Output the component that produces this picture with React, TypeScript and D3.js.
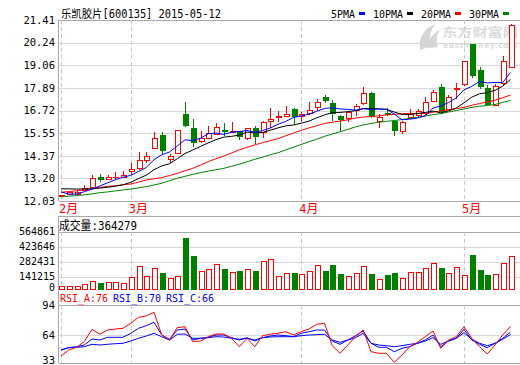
import React, { useEffect, useRef } from 'react';
import * as d3 from 'd3';

const W = 520;
const H = 365;

// daily candles, 2015-02 .. 2015-05-12
const opens = [12.29, 12.38, 12.4, 12.6, 12.77, 13.26, 13.19, 13.25, 13.27, 13.58, 13.72, 14.13, 14.77, 15.45, 14.22, 14.53, 16.54, 15.83, 15.15, 15.28, 15.5, 15.72, 15.62, 15.65, 15.28, 15.8, 15.62, 16.17, 16.37, 16.45, 16.8, 16.43, 16.6, 16.88, 17.4, 17.09, 16.45, 16.31, 16.76, 17.1, 17.64, 16.19, 16.6, 16.18, 15.67, 16.37, 16.5, 16.58, 17.2, 17.95, 16.81, 17.85, 18.08, 20.15, 18.83, 17.87, 17.0, 18.14, 19.0];
const highs = [12.36, 12.56, 12.55, 12.86, 13.38, 13.45, 13.38, 13.52, 13.58, 13.98, 14.58, 14.58, 15.62, 15.6, 14.45, 15.72, 17.17, 16.3, 15.67, 15.9, 16.08, 16.06, 16.1, 15.68, 15.82, 15.92, 16.16, 16.83, 16.72, 16.95, 16.83, 16.62, 17.17, 17.32, 17.52, 17.26, 16.5, 16.7, 17.04, 17.95, 17.7, 16.52, 16.85, 16.2, 16.15, 16.8, 16.8, 17.43, 17.8, 18.07, 17.52, 18.12, 19.3, 20.16, 18.95, 18.06, 18.1, 19.55, 21.2];
const lows = [12.26, 12.35, 12.38, 12.57, 12.75, 13.03, 13.12, 13.12, 13.22, 13.38, 13.64, 14.0, 14.72, 14.45, 14.0, 14.48, 15.88, 14.84, 15.05, 15.25, 15.45, 15.4, 15.58, 15.18, 15.18, 15.0, 15.3, 15.8, 16.14, 16.42, 15.97, 16.12, 16.5, 16.7, 17.13, 16.2, 15.62, 16.1, 16.43, 17.0, 16.35, 15.8, 16.45, 15.38, 15.5, 16.3, 16.4, 16.5, 17.15, 16.55, 16.75, 17.3, 18.0, 18.4, 17.86, 16.98, 16.97, 18.05, 18.9];
const closes = [12.33, 12.5, 12.5, 12.72, 13.2, 13.15, 13.29, 13.29, 13.38, 13.68, 14.14, 14.38, 15.28, 14.67, 14.36, 15.71, 15.97, 15.1, 15.27, 15.54, 15.85, 15.66, 15.66, 15.42, 15.8, 15.42, 16.12, 16.3, 16.41, 16.52, 16.43, 16.55, 16.73, 17.15, 17.27, 16.6, 16.26, 16.63, 16.93, 17.62, 16.42, 16.4, 16.55, 15.71, 16.12, 16.55, 16.7, 17.18, 17.66, 16.7, 17.42, 17.9, 19.28, 18.55, 17.97, 17.05, 18.0, 19.27, 21.17];
const volumes = [29700, 33000, 33000, 55000, 88000, 66000, 77000, 77000, 66000, 132000, 253000, 143000, 231000, 180000, 121000, 143000, 564861, 367000, 202000, 220000, 275000, 224000, 191000, 202000, 220000, 202000, 312000, 330000, 143000, 180000, 180000, 169000, 202000, 268000, 202000, 268000, 169000, 146000, 180000, 257000, 169000, 110000, 157000, 180000, 121000, 191000, 191000, 231000, 290000, 235000, 180000, 242000, 154000, 378000, 213000, 157000, 169000, 290000, 364279];

const ma5 = [12.5, 12.39, 12.39, 12.51, 12.65, 12.81, 12.97, 13.13, 13.26, 13.36, 13.56, 13.77, 14.17, 14.43, 14.57, 14.88, 15.2, 15.16, 15.28, 15.52, 15.55, 15.48, 15.6, 15.63, 15.68, 15.59, 15.68, 15.81, 16.01, 16.15, 16.36, 16.44, 16.53, 16.68, 16.83, 16.86, 16.8, 16.78, 16.74, 16.81, 16.77, 16.8, 16.78, 16.54, 16.24, 16.27, 16.33, 16.45, 16.84, 16.96, 17.13, 17.37, 17.79, 17.97, 18.22, 18.15, 18.17, 18.17, 18.69];
const ma10 = [12.66, 12.66, 12.65, 12.65, 12.66, 12.7, 12.74, 12.8, 12.87, 13.0, 13.19, 13.37, 13.65, 13.85, 13.96, 14.22, 14.49, 14.67, 14.86, 15.04, 15.21, 15.34, 15.38, 15.45, 15.6, 15.57, 15.58, 15.7, 15.82, 15.92, 15.97, 16.06, 16.17, 16.34, 16.49, 16.61, 16.62, 16.66, 16.71, 16.82, 16.82, 16.8, 16.78, 16.64, 16.52, 16.52, 16.56, 16.62, 16.69, 16.6, 16.7, 16.85, 17.12, 17.41, 17.59, 17.64, 17.77, 17.98, 18.33];
const ma20 = [12.48, 12.52, 12.56, 12.61, 12.66, 12.74, 12.78, 12.82, 12.87, 12.91, 13.01, 13.12, 13.18, 13.24, 13.35, 13.46, 13.6, 13.72, 13.89, 14.07, 14.22, 14.36, 14.52, 14.68, 14.81, 14.94, 15.05, 15.16, 15.26, 15.41, 15.55, 15.69, 15.82, 15.93, 16.05, 16.11, 16.17, 16.24, 16.33, 16.38, 16.41, 16.44, 16.49, 16.52, 16.55, 16.57, 16.57, 16.57, 16.63, 16.7, 16.75, 16.82, 16.88, 16.99, 17.08, 17.16, 17.25, 17.38, 17.52];
const ma30 = [12.25, 12.28, 12.31, 12.35, 12.4, 12.46, 12.5, 12.55, 12.6, 12.65, 12.71, 12.77, 12.86, 12.95, 13.08, 13.21, 13.31, 13.41, 13.5, 13.58, 13.65, 13.72, 13.83, 13.94, 14.06, 14.19, 14.3, 14.43, 14.53, 14.68, 14.82, 14.96, 15.1, 15.23, 15.38, 15.5, 15.62, 15.74, 15.87, 15.97, 16.05, 16.11, 16.16, 16.2, 16.25, 16.31, 16.37, 16.43, 16.5, 16.56, 16.64, 16.72, 16.8, 16.88, 16.94, 16.98, 17.03, 17.14, 17.24];

const rsiA = [43, 49, 51.7, 57.3, 69.7, 64.7, 69, 70, 70.7, 75.7, 81.7, 83, 86.7, 64, 59, 71.3, 72.3, 57.3, 58, 62.3, 65, 65, 60.7, 52.3, 60.7, 52.3, 63.3, 64.7, 65.7, 67.3, 64, 67.3, 70, 74.7, 75.7, 53.3, 45.7, 54, 62.3, 69, 47.3, 45.7, 45.7, 36.7, 44, 52.3, 56.7, 62.3, 68, 50.7, 59, 62.3, 72.3, 60.7, 52.3, 45, 54, 64, 72.5];
const rsiB = [49, 51.3, 52.3, 54, 60, 59, 61.7, 61.7, 61.7, 65.7, 70.7, 73.3, 76.7, 64, 59.7, 69, 70, 59, 60.7, 61.7, 64, 64, 61.3, 59, 61.3, 58, 61.3, 63, 64, 63.3, 62.3, 65.7, 67.3, 69, 69, 58, 54.7, 59, 63.3, 68, 55.7, 51.7, 51.7, 47.3, 50.7, 52.3, 55.7, 59, 64, 52.3, 58, 60.7, 69.7, 59, 54.7, 51.3, 55.7, 60.7, 67];
const rsiC = [49, 51.3, 51.7, 52.3, 54.7, 54, 54.7, 55.3, 55.7, 58, 60.7, 63, 65.7, 62.3, 59, 64.7, 65, 60.7, 60.7, 61.3, 62.3, 62, 60.7, 59.7, 60.7, 59, 61.3, 62, 62.3, 62.3, 62.3, 63.3, 64, 64.3, 64.7, 59, 56.7, 59, 61.3, 65.7, 55.7, 54, 53.3, 52.3, 53.3, 54.7, 55.7, 58, 61.3, 54.7, 58, 60.7, 66.3, 59.7, 55.7, 53.3, 55.7, 59.7, 64.5];

const priceTicks = [12.03, 13.2, 14.37, 15.55, 16.72, 17.89, 19.06, 20.24, 21.41];
const volTicks = [0, 141215, 282431, 423646, 564861];
const rsiTicks = [33, 64, 94];
const monthLabels = ['2月', '3月', '4月', '5月'];
const monthStart = [0, 9, 31, 52];
const maNames = ['5PMA', '10PMA', '20PMA', '30PMA'];
const maColors = ['#0000ff', '#000000', '#ff0000', '#008000'];
const rsiNames = ['RSI_A:76', 'RSI_B:70', 'RSI_C:66'];
const rsiColors = ['#ff0000', '#0000ff', '#0000ff'];

const RED = '#ff0000';
const GREEN = '#008000';
const MONO = "'DejaVu Sans Mono', 'Noto Sans CJK SC', monospace";

const crisp = (v: number) => Math.round(v) + 0.5;

const draw = (el: SVGSVGElement) => {
  const svg = d3.select(el);
  svg.selectAll('*').remove();

  const n = closes.length;
  const x = d3.scaleLinear().domain([0, n - 1]).range([61, 510.5]);
  const yP = d3.scaleLinear().domain([12.03, 21.41]).range([201, 20]);
  const yVol = d3.scaleLinear().domain([0, 564861]).range([289, 237.7]);
  const yVolGrid = d3.scaleLinear().domain([0, 564861]).range([291.7, 231.7]);
  const yRsi = d3.scaleLinear().domain([33, 94]).range([366, 305]);

  const left = 58.5;
  const right = 520;

  // clip regions
  const defs = svg.append('defs');
  defs.append('clipPath').attr('id', 'clipMain')
    .append('rect').attr('x', left).attr('y', 20).attr('width', right - left).attr('height', 181);
  defs.append('clipPath').attr('id', 'clipRsi')
    .append('rect').attr('x', left).attr('y', 305).attr('width', right - left).attr('height', 58);

  // watermark
  const wm = svg.append('g').attr('fill', '#dcdcdc');
  wm.append('path')
    .attr('d', 'M420,50 C418,38 424,28 436,24 C430,30 428,38 432,46 Z M428,48 C428,40 432,33 440,30 C436,36 436,42 438,47 Z')
    .attr('fill', '#d6d6d6');
  wm.append('text').attr('x', 442).attr('y', 36.5)
    .attr('font-family', "'Noto Sans CJK SC', sans-serif").attr('font-weight', 'bold')
    .attr('font-size', 12).attr('textLength', 76).attr('lengthAdjust', 'spacingAndGlyphs').text('东方财富网');
  wm.append('text').attr('x', 443).attr('y', 47.5)
    .attr('font-family', "'DejaVu Sans', sans-serif").attr('font-weight', 'bold')
    .attr('font-size', 7.5).attr('textLength', 74).text('eastmoney.com');

  // grid lines, main panel
  const grid = svg.append('g').attr('shape-rendering', 'crispEdges');
  priceTicks.forEach((t, i) => {
    const edge = i === 0 || i === priceTicks.length - 1;
    grid.append('line').attr('x1', left).attr('x2', right)
      .attr('y1', crisp(yP(t))).attr('y2', crisp(yP(t)))
      .attr('stroke', edge ? '#a8a8a8' : '#d8d8d8');
  });
  // volume panel
  grid.append('line').attr('x1', left).attr('x2', right).attr('y1', 216.5).attr('y2', 216.5).attr('stroke', '#a8a8a8');
  volTicks.slice(1).forEach((t, i) => {
    const top = i === volTicks.length - 2;
    grid.append('line').attr('x1', left).attr('x2', right)
      .attr('y1', crisp(yVolGrid(t))).attr('y2', crisp(yVolGrid(t)))
      .attr('stroke', top ? '#a8a8a8' : '#d8d8d8');
  });
  // rsi panel
  rsiTicks.forEach((t) => {
    const y = t === 33 ? 363.5 : crisp(yRsi(t));
    grid.append('line').attr('x1', left).attr('x2', right).attr('y1', y).attr('y2', y)
      .attr('stroke', t === 64 ? '#d8d8d8' : '#a8a8a8');
  });

  // month dashed lines
  const spans: [number, number][] = [[20, 201], [231.7, 289], [305, 363]];
  monthStart.forEach((idx) => {
    spans.forEach(([a, b]) => {
      grid.append('line').attr('x1', crisp(x(idx))).attr('x2', crisp(x(idx)))
        .attr('y1', a).attr('y2', b)
        .attr('stroke', '#c8c8c8').attr('stroke-dasharray', '4,3');
    });
  });

  // left axis lines
  [[20, 201], [216, 363]].forEach(([a, b]) => {
    grid.append('line').attr('x1', left).attr('x2', left).attr('y1', a).attr('y2', b).attr('stroke', '#a8a8a8');
  });

  // axis labels
  const lab = svg.append('g').attr('font-family', MONO).attr('font-size', 10.5).attr('fill', '#000')
    .attr('text-anchor', 'end');
  priceTicks.forEach((t) => {
    lab.append('text').attr('x', 55).attr('y', yP(t)).attr('dy', '0.35em').text(t.toFixed(2));
  });
  volTicks.forEach((t) => {
    lab.append('text').attr('x', 55).attr('y', Math.min(yVolGrid(t), 287.5)).attr('dy', '0.35em')
      .attr('font-size', 10).text(String(t));
  });
  rsiTicks.forEach((t) => {
    lab.append('text').attr('x', 55).attr('y', Math.min(yRsi(t), 360)).attr('dy', '0.35em').text(String(t));
  });

  // month labels
  svg.append('g').attr('font-family', MONO).attr('font-size', 12).attr('fill', RED)
    .selectAll('text').data(monthLabels).enter().append('text')
    .attr('x', (d, i) => x(monthStart[i]) - 2).attr('y', 213).text((d) => d);

  // title
  svg.append('text').attr('x', 61).attr('y', 18).attr('font-family', MONO).attr('font-size', 11.5)
    .attr('textLength', 160).attr('lengthAdjust', 'spacingAndGlyphs')
    .text('乐凯胶片[600135] 2015-05-12');

  // legend
  const leg = svg.append('g').attr('font-family', MONO).attr('font-size', 11);
  let cx = 331;
  maNames.forEach((name, i) => {
    const w = name.length * 6;
    leg.append('text').attr('x', cx).attr('y', 18).attr('textLength', w)
      .attr('lengthAdjust', 'spacingAndGlyphs').text(name);
    const mx = cx + w + 4;
    leg.append('rect').attr('x', mx).attr('y', 12).attr('width', 6).attr('height', 3).attr('fill', maColors[i]);
    cx = mx + 14;
  });

  // candles
  const idx = d3.range(n);
  const cg = svg.append('g').attr('shape-rendering', 'crispEdges');
  idx.forEach((i) => {
    const c = crisp(x(i));
    const up = closes[i] >= opens[i];
    const yo = yP(opens[i]);
    const yc = yP(closes[i]);
    const top = Math.round(Math.min(yo, yc));
    const bot = Math.round(Math.max(yo, yc));
    const yh = Math.round(yP(highs[i]));
    const yl = Math.round(yP(lows[i]));
    const col = up ? RED : GREEN;
    if (top > yh) cg.append('line').attr('x1', c).attr('x2', c).attr('y1', yh).attr('y2', top).attr('stroke', col);
    if (yl > bot) cg.append('line').attr('x1', c).attr('x2', c).attr('y1', bot).attr('y2', yl).attr('stroke', col);
    if (bot - top < 1) {
      cg.append('line').attr('x1', c - 3).attr('x2', c + 3).attr('y1', top + 0.5).attr('y2', top + 0.5).attr('stroke', col);
    } else if (up) {
      cg.append('rect').attr('x', c - 2.5).attr('y', top + 0.5).attr('width', 5).attr('height', bot - top)
        .attr('fill', '#fff').attr('stroke', col);
    } else {
      cg.append('rect').attr('x', c - 3).attr('y', top).attr('width', 6).attr('height', bot - top + 1).attr('fill', col);
    }
  });

  // moving averages
  const maLine = d3.line<number>().x((d, i) => x(i)).y((d) => yP(d));
  const mg = svg.append('g').attr('clip-path', 'url(#clipMain)').attr('fill', 'none').attr('stroke-width', 1);
  [ma30, ma20, ma10, ma5].forEach((s, k) => {
    mg.append('path').attr('d', maLine(s)).attr('stroke', maColors[3 - k]);
  });

  // volume
  svg.append('text').attr('x', 59).attr('y', 229.5).attr('font-family', MONO).attr('font-size', 12)
    .attr('textLength', 78).attr('lengthAdjust', 'spacingAndGlyphs').text('成交量:364279');
  const vg = svg.append('g').attr('shape-rendering', 'crispEdges');
  idx.forEach((i) => {
    const c = crisp(x(i));
    const up = closes[i] >= opens[i];
    const yt = Math.round(yVol(volumes[i]));
    const yb = Math.round(yVol(0));
    if (up) {
      vg.append('rect').attr('x', c - 2.5).attr('y', yt + 0.5).attr('width', 5).attr('height', yb - yt)
        .attr('fill', '#fff').attr('stroke', RED);
    } else {
      vg.append('rect').attr('x', c - 3).attr('y', yt).attr('width', 6).attr('height', yb - yt + 1).attr('fill', GREEN);
    }
  });

  // rsi
  const rl = svg.append('g').attr('font-family', MONO).attr('font-size', 11);
  let rx = 60;
  rsiNames.forEach((name, i) => {
    const w = name.length * 6;
    rl.append('text').attr('x', rx).attr('y', 302).attr('fill', rsiColors[i])
      .attr('textLength', w).attr('lengthAdjust', 'spacingAndGlyphs').text(name);
    rx += w + 5;
  });
  const rsiLine = d3.line<number>().x((d, i) => x(i)).y((d) => yRsi(d));
  const rg = svg.append('g').attr('clip-path', 'url(#clipRsi)').attr('fill', 'none').attr('stroke-width', 1);
  [rsiC, rsiB, rsiA].forEach((s, k) => {
    rg.append('path').attr('d', rsiLine(s)).attr('stroke', rsiColors[2 - k]);
  });
};

export default function App() {
  const ref = useRef<SVGSVGElement>(null);
  useEffect(() => {
    if (ref.current) draw(ref.current);
  }, []);
  return (
    <svg ref={ref} width={W} height={H}
      style={{ position: 'absolute', left: 0, top: 0, background: '#fff', display: 'block' }} />
  );
}
